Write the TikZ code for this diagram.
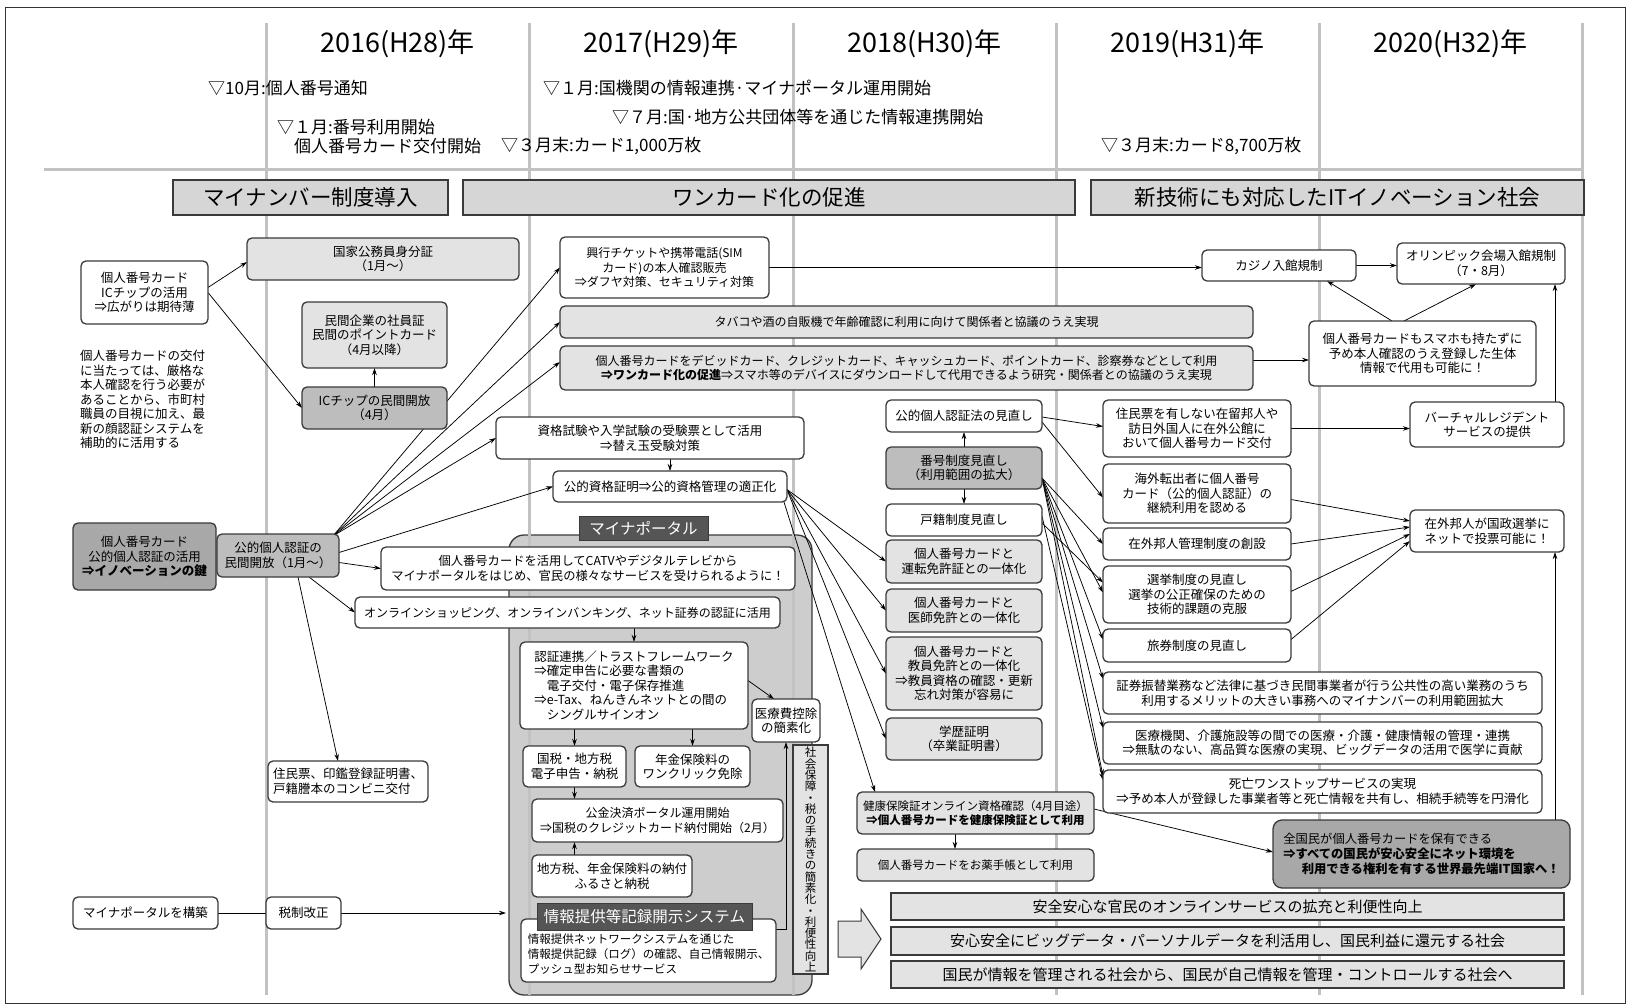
\documentclass[tikz,border=0pt]{standalone}
\usepackage{fontspec}
\setmainfont{Noto Sans CJK JP}
\usetikzlibrary{arrows.meta,calc}
\pgfdeclarelayer{bg}\pgfdeclarelayer{fg}\pgfsetlayers{bg,main,fg}
\definecolor{bord}{HTML}{3A3A3A}
\definecolor{lgray}{HTML}{E3E3E3}
\definecolor{mgray}{HTML}{BDBDBD}
\definecolor{dgray}{HTML}{A8A8A8}
\definecolor{pgray}{HTML}{D6D6D6}
\definecolor{labc}{HTML}{555555}
\definecolor{contc}{HTML}{CDCDCD}
\definecolor{gridc}{HTML}{C2C2C2}
\newcommand\myfs[2]{\fontsize{#1}{#2}\selectfont}
\newcommand\mkbox[7][]{\node[bx,#1,minimum width={(#5-#3)*1pt},minimum height={(#6-#4)*1pt}] (#2) at ({(#3+#5)/2},{(#4+#6)/2}) {#7};}
\tikzset{
 bx/.style={draw=bord, line width=1.3pt, rounded corners=5pt, fill=white, inner sep=0pt, outer sep=0pt, align=center, font=\myfs{12.5}{14.5}, text=black},
 lt/.style={fill=lgray},
 md/.style={fill=mgray},
 dk/.style={fill=dgray},
 sq/.style={rounded corners=0pt},
 phase/.style={sq, fill=pgray, line width=1.2pt, font=\myfs{21.5}{24}},
 lab/.style={sq, fill=labc, text=white, line width=1pt, font=\myfs{15.5}{18}},
 banner/.style={sq, fill=lgray, line width=1.1pt, font=\myfs{15}{18}},
 cont/.style={draw=bord, line width=1.3pt, rounded corners=15pt, fill=contc},
 gridl/.style={draw=gridc, line width=3pt},
 hdr/.style={anchor=west, inner sep=0pt, font=\myfs{17}{20}},
 yr/.style={inner sep=0pt, font=\myfs{27}{30}},
 arr/.style={draw=black, line width=0.75pt, -{Stealth[length=7pt,width=4.5pt]}},
 ln/.style={draw=black, line width=0.75pt},
}
\begin{document}
\begin{tikzpicture}[x=1pt,y=-1pt]
\useasboundingbox (0,0) rectangle (1634,1006);
\begin{pgfonlayer}{bg}
\mkbox[cont]{container}{509}{535}{812}{995}{}
\foreach \gx in {266,529,793,1056,1319,1582} \draw[gridl] (\gx,23) -- (\gx,995);
\draw[gridl] (44,170) -- (1582,170);
\draw[line width=1pt, draw=black!80] (5,8) rectangle (1625,1003);
\end{pgfonlayer}

\begin{pgfonlayer}{fg}
% header
\node[yr] (y1) at (397.5,44) {2016(H28)年};
\node[yr] (y2) at (661,44) {2017(H29)年};
\node[yr] (y3) at (924.5,44) {2018(H30)年};
\node[yr] (y4) at (1187.5,44) {2019(H31)年};
\node[yr] (y5) at (1450.5,44) {2020(H32)年};
\node[hdr] (h1) at (208,88) {▽10月:個人番号通知};
\node[hdr] (h2) at (543,88) {▽１月:国機関の情報連携·マイナポータル運用開始};
\node[hdr] (h3) at (612,117) {▽７月:国·地方公共団体等を通じた情報連携開始};
\node[hdr] (h4) at (277,127) {▽１月:番号利用開始};
\node[hdr] (h5) at (294,146) {個人番号カード交付開始};
\node[hdr] (h6) at (501,146) {▽３月末:カード1,000万枚};
\node[hdr] (h7) at (1101,146) {▽３月末:カード8,700万枚};
\mkbox[phase]{ph1}{173}{180}{448}{215}{マイナンバー制度導入}
\mkbox[phase]{ph2}{463}{180}{1075}{215}{ワンカード化の促進}
\mkbox[phase]{ph3}{1091}{180}{1584}{215}{新技術にも対応したITイノベーション社会}

% left column
\mkbox{icchip}{81}{261}{208}{324}{個人番号カード\\ICチップの活用\\⇒広がりは期待薄}
\node[anchor=north west, align=left, inner sep=0pt, font=\myfs{12.5}{14.5}] (para) at (80,350) {個人番号カードの交付\\に当たっては、厳格な\\本人確認を行う必要が\\あることから、市町村\\職員の目視に加え、最\\新の顔認証システムを\\補助的に活用する};
\mkbox[dk]{kagi}{73}{523}{216}{590}{個人番号カード\\公的個人認証の活用\\\textbf{⇒イノベーションの鍵}}
\mkbox[md]{koteki}{217}{534}{339}{577}{公的個人認証の\\民間開放（1月～）}
\mkbox{mpbuild}{73}{897}{218}{929}{マイナポータルを構築}
\mkbox{zeisei}{266}{897}{341}{929}{税制改正}

% 2016
\mkbox[lt]{kokka}{247}{238}{519}{280}{国家公務員身分証\\（1月～）}
\mkbox[lt]{minkan}{302}{302}{447}{368}{民間企業の社員証\\民間のポイントカード\\（4月以降）}
\mkbox[md]{icopen}{302}{387}{447}{429}{ICチップの民間開放\\（4月）}
\mkbox[align=left]{konbini}{268}{761}{428}{802}{住民票、印鑑登録証明書、\\戸籍謄本のコンビニ交付}

% 2017
\mkbox[font=\myfs{12}{14.5}]{kogyo}{560}{237}{769}{298}{興行チケットや携帯電話(SIM\\カード)の本人確認販売\\⇒ダフヤ対策、セキュリティ対策}
\mkbox[lt,font=\myfs{12}{14.5}]{tabaco}{560}{306}{1253}{338}{タバコや酒の自販機で年齢確認に利用に向けて関係者と協議のうえ実現}
\mkbox[lt,font=\myfs{12}{14.5}]{debit}{560}{346}{1253}{390}{個人番号カードをデビッドカード、クレジットカード、キャッシュカード、ポイントカード、診察券などとして利用\\\textbf{⇒ワンカード化の促進}⇒スマホ等のデバイスにダウンロードして代用できるよう研究・関係者との協議のうえ実現}
\mkbox{shikaku}{496}{417}{804}{459}{資格試験や入学試験の受験票として活用\\⇒替え玉受験対策}
\mkbox{kshikaku}{553}{471}{787}{502}{公的資格証明⇒公的資格管理の適正化}
\mkbox[lab]{mplabel}{579}{516}{708}{540}{マイナポータル}
\mkbox[font=\myfs{12.3}{14.5}]{catv}{381}{547}{795}{590}{個人番号カードを活用してCATVやデジタルテレビから\\マイナポータルをはじめ、官民の様々なサービスを受けられるように！}
\mkbox[font=\myfs{12}{14.5}]{online}{355}{597}{780}{628}{オンラインショッピング、オンラインバンキング、ネット証券の認証に活用}
\mkbox[align=left]{ninsho}{520}{642}{748}{729}{認証連携／トラストフレームワーク\\⇒確定申告に必要な書類の\\\hspace*{1em}電子交付・電子保存推進\\⇒e-Tax、ねんきんネットとの間の\\\hspace*{1em}シングルサインオン}
\mkbox{iryohi}{752}{699}{820}{742}{医療費控除\\の簡素化}
\mkbox{kokuzei}{523}{746}{626}{787}{国税・地方税\\電子申告・納税}
\mkbox{nenkin}{635}{746}{750}{787}{年金保険料の\\ワンクリック免除}
\mkbox[font=\myfs{12}{14.5}]{kokin}{532}{799}{783}{842}{公金決済ポータル運用開始\\⇒国税のクレジットカード納付開始（2月）}
\mkbox{chihozei}{532}{855}{692}{897}{地方税、年金保険料の納付\\ふるさと納税}
\mkbox{johobox}{521}{919}{776}{982}{}
\node[align=left, inner sep=0pt, font=\myfs{11.5}{15}] (johotext) at ($(johobox.center)+(0,4)$) {情報提供ネットワークシステムを通じた\\情報提供記録（ログ）の確認、自己情報開示、\\プッシュ型お知らせサービス};
\mkbox[lab]{joholabel}{537}{903}{752}{930}{情報提供等記録開示システム}
\mkbox[lt,sq,font=\myfs{11.5}{11.3}]{vtext}{793}{745}{828}{974}{社\\会\\保\\障\\・\\税\\の\\手\\続\\き\\の\\簡\\素\\化\\・\\利\\便\\性\\向\\上}

% 2018
\mkbox{kotelaw}{886}{400}{1042}{432}{公的個人認証法の見直し}
\mkbox[md]{bango}{886}{447}{1042}{489}{番号制度見直し\\（利用範囲の拡大）}
\mkbox{koseki}{886}{504}{1042}{536}{戸籍制度見直し}
\mkbox[lt]{unten}{886}{540}{1042}{583}{個人番号カードと\\運転免許証との一体化}
\mkbox[lt]{ishi}{886}{589}{1042}{632}{個人番号カードと\\医師免許との一体化}
\mkbox[lt]{kyoin}{886}{637}{1042}{710}{個人番号カードと\\教員免許との一体化\\⇒教員資格の確認・更新\\忘れ対策が容易に}
\mkbox[lt]{gakureki}{886}{718}{1042}{760}{学歴証明\\（卒業証明書）}
\mkbox[lt,font=\myfs{11.5}{14.5}]{kenko}{857}{792}{1094}{834}{健康保険証オンライン資格確認（4月目途）\\\textbf{⇒個人番号カードを健康保険証として利用}}
\mkbox[lt,font=\myfs{11.5}{14.5}]{okusuri}{857}{849}{1094}{881}{個人番号カードをお薬手帳として利用}
\mkbox[banner]{ban1}{891}{893}{1564}{920}{安全安心な官民のオンラインサービスの拡充と利便性向上}
\mkbox[banner]{ban2}{891}{927}{1564}{955}{安心安全にビッグデータ・パーソナルデータを利活用し、国民利益に還元する社会}
\mkbox[banner]{ban3}{891}{961}{1564}{988}{国民が情報を管理される社会から、国民が自己情報を管理・コントロールする社会へ}

% 2019
\mkbox{jumin}{1103}{400}{1291}{457}{住民票を有しない在留邦人や\\訪日外国人に在外公館に\\おいて個人番号カード交付}
\mkbox{kaigai}{1103}{464}{1291}{523}{海外転出者に個人番号\\カード（公的個人認証）の\\継続利用を認める}
\mkbox{zaigai}{1103}{528}{1291}{560}{在外邦人管理制度の創設}
\mkbox{senkyo}{1103}{566}{1291}{623}{選挙制度の見直し\\選挙の公正確保のための\\技術的課題の克服}
\mkbox{ryoken}{1103}{629}{1291}{662}{旅券制度の見直し}
\mkbox{shoken}{1103}{672}{1542}{714}{証券振替業務など法律に基づき民間事業者が行う公共性の高い業務のうち\\利用するメリットの大きい事務へのマイナンバーの利用範囲拡大}
\mkbox{iryo}{1103}{722}{1542}{764}{医療機関、介護施設等の間での医療・介護・健康情報の管理・連携\\⇒無駄のない、高品質な医療の実現、ビッグデータの活用で医学に貢献}
\mkbox{shibo}{1103}{770}{1542}{813}{死亡ワンストップサービスの実現\\⇒予め本人が登録した事業者等と死亡情報を共有し、相続手続等を円滑化}
\mkbox[dk,align=left,font=\myfs{12.3}{15},rounded corners=9pt]{zenkoku}{1273}{820}{1570}{888}{全国民が個人番号カードを保有できる\\\textbf{⇒すべての国民が安心安全にネット環境を}\\\hspace*{1.5em}\textbf{利用できる権利を有する世界最先端IT国家へ！}}
\mkbox{kajino}{1202}{250}{1356}{281}{カジノ入館規制}

% 2020
\mkbox{olympic}{1397}{243}{1565}{284}{オリンピック会場入館規制\\（7・8月）}
\mkbox{seitai}{1309}{321}{1536}{386}{個人番号カードもスマホも持たずに\\予め本人確認のうえ登録した生体\\情報で代用も可能に！}
\mkbox{virtual}{1410}{402}{1564}{447}{バーチャルレジデント\\サービスの提供}
\mkbox{kokusei}{1410}{510}{1564}{552}{在外邦人が国政選挙に\\ネットで投票可能に！}

% block arrow
\draw[fill=lgray, draw=bord, line width=1pt] (838,921) -- (861,921) -- (861,909) -- (881,939) -- (861,969) -- (861,957) -- (838,957) -- cycle;
\end{pgfonlayer}

% ---- connectors ----
\draw[arr] ($(icchip.east)+(0,-5)$) -- ($(kokka.west)+(0,3)$);
\draw[arr] (icchip.east) -- (icopen.west);
\draw[arr] (icopen.north) -- (minkan.south);
\coordinate (K) at ($(koteki.north east)+(-6,2)$);
\draw[arr] (K) -- (kogyo.west);
\draw[arr] (K) -- (tabaco.west);
\draw[arr] (K) -- ($(debit.west)+(0,-6)$);
\draw[arr] (K) -- (shikaku.west);
\draw[arr] ($(koteki.east)+(0,-3)$) -- (kshikaku.west);
\draw[arr] ($(koteki.east)+(0,7)$) -- (catv.west);
\draw[arr] ($(koteki.south east)+(-30,0)$) -- (online.west);
\draw[arr] ($(koteki.south)+(20,0)$) -- ($(konbini.north)+(-10,0)$);
\draw[ln] (mpbuild.east) -- (zeisei.west);
\draw[arr, shorten >=3pt] (zeisei.east) -- (container.west |- zeisei.east);

\draw[arr] (kshikaku.north |- shikaku.south) -- (kshikaku.north);
\draw[arr] (ninsho.north |- online.south) -- (ninsho.north);
\draw[arr] (kokuzei.north |- ninsho.south) -- (kokuzei.north);
\draw[arr] (nenkin.north |- ninsho.south) -- (nenkin.north);
\draw[arr] (kokuzei.south) -- (kokuzei.south |- kokin.north);
\draw[arr] (kokuzei.south |- chihozei.north) -- (kokuzei.south |- kokin.south);
\draw[arr] ($(ninsho.east)+(0,-5)$) -- ($(iryohi.north west)+(22,0)$);
\draw[arr] ($(johobox.north east)+(0,10)$) -| (iryohi.south);

\coordinate (S) at ($(kshikaku.east)+(0,3)$);
\draw[arr] (S) -- (unten.west);
\draw[arr] (S) -- (ishi.west);
\draw[arr] (S) -- (kyoin.west);
\draw[arr] (S) -- (gakureki.west);
\draw[arr] ($(kshikaku.south east)+(-3,0)$) -- ($(kenko.north west)+(18,0)$);

\draw[arr] (bango.north) -- (kotelaw.south);
\draw[arr] (bango.south) -- (koseki.north);
\draw[arr] ($(kotelaw.east)+(0,1)$) -- ($(jumin.west)+(0,-2)$);
\draw[arr] ($(kotelaw.east)+(0,6)$) -- ($(kaigai.west)+(0,4)$);
\coordinate (B) at ($(bango.east)+(0,10)$);
\draw[arr] (B) -- (zaigai.west);
\draw[arr] (B) -- ($(senkyo.west)+(0,-2)$);
\draw[arr] ($(koseki.east)+(0,3)$) -- ($(senkyo.west)+(0,-12)$);
\draw[arr] (B) -- ($(ryoken.west)+(0,-6)$);
\draw[arr] (B) -- ($(shoken.north west)+(0,7)$);
\draw[arr] (B) -- ($(iryo.north west)+(0,6)$);
\draw[arr] (B) -- ($(shibo.north west)+(0,6)$);
\draw[arr] ($(koseki.east)+(0,-4)$) -- ($(shibo.north west)+(0,10)$);

\draw[arr] (jumin.east) -- (virtual.west |- jumin.east);
\draw[arr] ($(kaigai.east)+(0,6)$) -- ($(kokusei.west)+(0,-10)$);
\draw[arr] (zaigai.east) -- ($(kokusei.west)+(0,-4)$);
\draw[arr] ($(senkyo.east)+(0,-3)$) -- ($(kokusei.west)+(0,3)$);
\draw[arr] ($(ryoken.east)+(0,-6)$) -- ($(kokusei.west)+(0,10)$);
\coordinate (V) at ($(virtual.north east)+(-9,0)$);
\draw[arr] (V) -- (V |- olympic.south);
\draw[arr] (V |- zenkoku.north) -- (V |- kokusei.south);
\draw[arr] (kogyo.east) -- (kajino.west |- kogyo.east);
\draw[arr] (kajino.east) -- (olympic.west |- kajino.east);
\draw[arr] ($(seitai.north west)+(83,0)$) -- ($(kajino.south west)+(125,0)$);
\draw[arr] ($(seitai.north west)+(95,0)$) -- ($(olympic.south west)+(79,0)$);
\coordinate (D) at ($(debit.east)+(0,-8)$);
\draw[arr] (D) -- (seitai.west |- D);
\coordinate (KO) at ($(kenko.south west)+(98,0)$);
\draw[arr] (KO) -- (KO |- okusuri.north);
\draw[arr] ($(kenko.east)+(0,-4)$) -- ($(zenkoku.west)+(0,-2)$);
\end{tikzpicture}
\end{document}
